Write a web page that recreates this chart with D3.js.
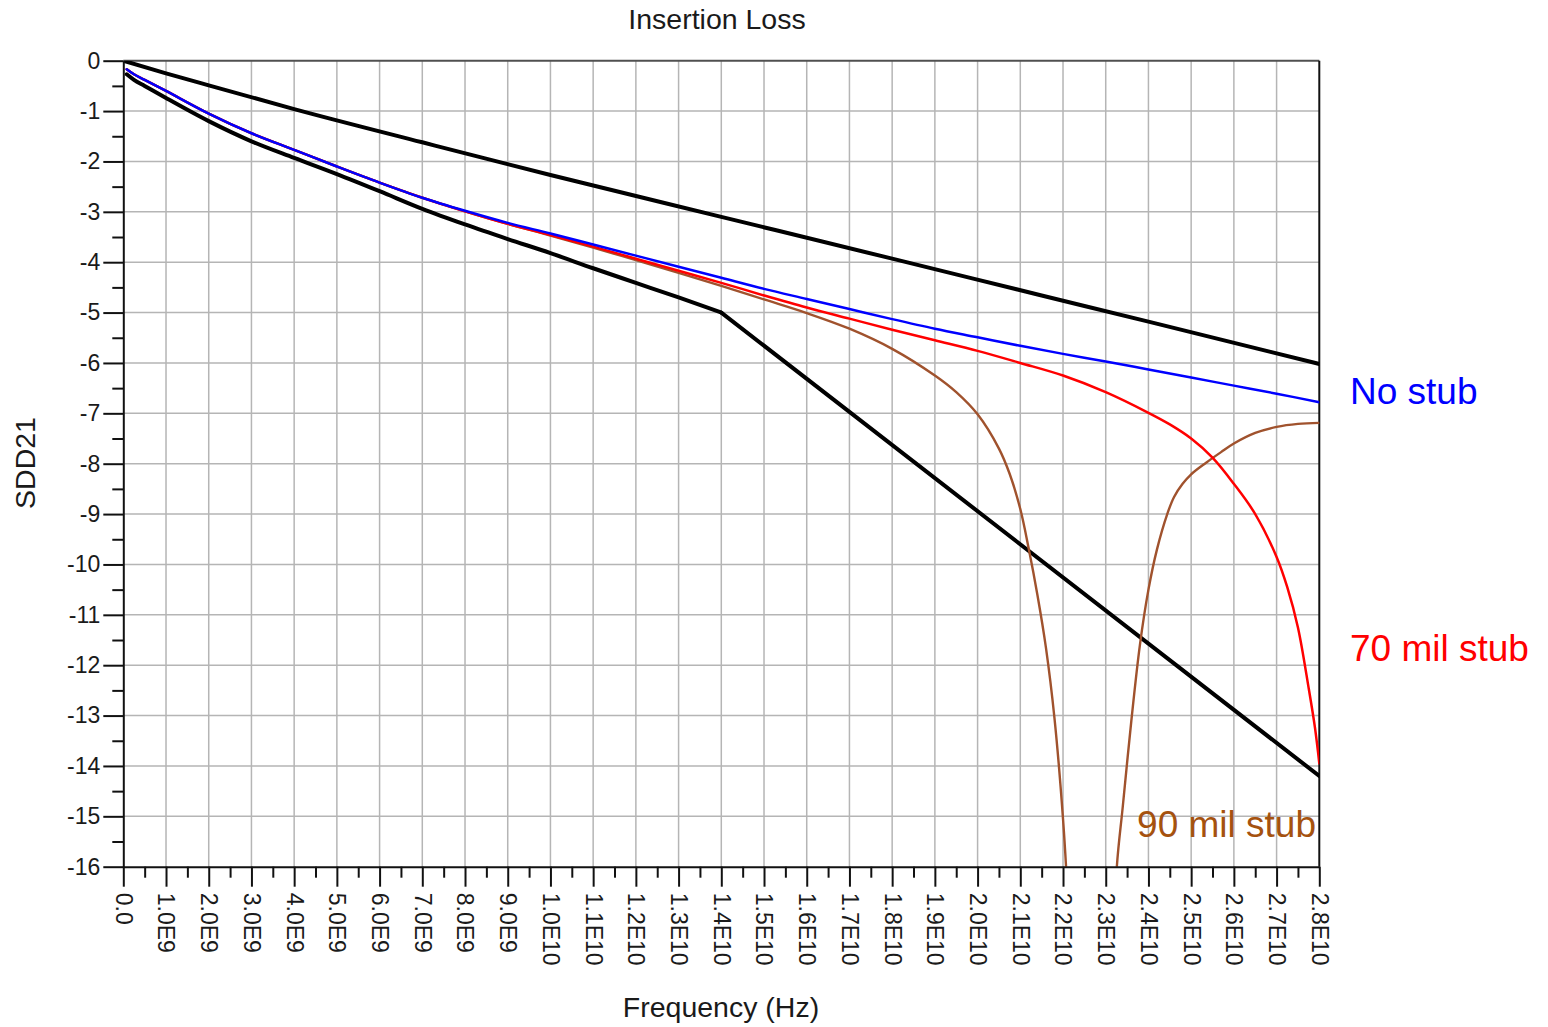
<!DOCTYPE html>
<html>
<head>
<meta charset="utf-8">
<script src="https://cdn.jsdelivr.net/npm/d3@7"></script>
<style>
html, body { margin: 0; padding: 0; background: #ffffff; }
svg { display: block; font-family: "Liberation Sans", Arial, Helvetica, sans-serif; }
</style>
</head>
<body>
<svg id="chart" width="1548" height="1027"></svg>
<script>
// ---------------- DATA ----------------
const chartTitle = "Insertion Loss";
const xAxisTitle = "Frequency (Hz)";
const yAxisTitle = "SDD21";

// x ticks in units of 1E9 Hz
const xTickValues = [0,1,2,3,4,5,6,7,8,9,10,11,12,13,14,15,16,17,18,19,20,21,22,23,24,25,26,27,28];
const xTickLabels = ["0.0","1.0E9","2.0E9","3.0E9","4.0E9","5.0E9","6.0E9","7.0E9","8.0E9","9.0E9",
  "1.0E10","1.1E10","1.2E10","1.3E10","1.4E10","1.5E10","1.6E10","1.7E10","1.8E10","1.9E10",
  "2.0E10","2.1E10","2.2E10","2.3E10","2.4E10","2.5E10","2.6E10","2.7E10","2.8E10"];
const xMinorTicks = [0.5,1.5,2.5,3.5,4.5,5.5,6.5,7.5,8.5,9.5,10.5,11.5,12.5,13.5,14.5,15.5,16.5,17.5,18.5,19.5,20.5,21.5,22.5,23.5,24.5,25.5,26.5,27.5];
const yTickValues = [0,-1,-2,-3,-4,-5,-6,-7,-8,-9,-10,-11,-12,-13,-14,-15,-16];
const yTickLabels = ["0","-1","-2","-3","-4","-5","-6","-7","-8","-9","-10","-11","-12","-13","-14","-15","-16"];
const yMinorTicks = [-0.5,-1.5,-2.5,-3.5,-4.5,-5.5,-6.5,-7.5,-8.5,-9.5,-10.5,-11.5,-12.5,-13.5,-14.5,-15.5];

// Upper limit line (black)
const freqUpper = [0, 1, 2, 4, 7, 10, 14, 18, 21.5, 24, 28];
const upperLimit = [0, -0.25, -0.49, -0.96, -1.62, -2.27, -3.10, -3.93, -4.66, -5.18, -6.02];

// Lower limit mask (black, kink at 1.4E10)
const freqLower = [0.08, 0.25, 0.5, 1, 2, 3, 4, 5, 6, 7, 8, 9, 10, 11, 12, 13, 14, 28];
const lowerLimit = [-0.27, -0.38, -0.50, -0.74, -1.20, -1.60, -1.93, -2.25, -2.59, -2.94, -3.25, -3.54, -3.82, -4.12, -4.41, -4.70, -5.00, -14.20];
const lowerKinkFreq = 14;

// No stub (blue)
const freqNoStub = [0.08, 0.25, 0.5, 1, 2, 3, 4, 5, 6, 7, 8, 9, 10, 11, 12, 13, 14, 15, 16, 17, 18, 19, 20, 21, 22, 23, 24, 25, 26, 27, 28];
const noStub = [-0.17, -0.27, -0.38, -0.60, -1.05, -1.44, -1.77, -2.10, -2.42, -2.72, -2.98, -3.22, -3.43, -3.65, -3.87, -4.09, -4.31, -4.53, -4.73, -4.93, -5.13, -5.32, -5.49, -5.66, -5.82, -5.97, -6.13, -6.29, -6.45, -6.61, -6.78];

// 70 mil stub (red)
const freqStub70 = [0.08, 0.25, 0.5, 1, 2, 3, 4, 5, 6, 7, 8, 9, 10, 11, 12, 13, 14, 15, 16, 17, 18, 19, 20, 21, 22, 23, 24, 24.5, 25, 25.5, 26, 26.5, 27, 27.25, 27.5, 27.75, 27.9, 28];
const stub70 = [-0.17, -0.27, -0.38, -0.60, -1.05, -1.44, -1.77, -2.10, -2.42, -2.72, -2.99, -3.24, -3.46, -3.69, -3.93, -4.17, -4.41, -4.66, -4.90, -5.12, -5.34, -5.55, -5.76, -6.00, -6.25, -6.58, -6.99, -7.22, -7.50, -7.88, -8.40, -9.00, -9.85, -10.45, -11.25, -12.45, -13.25, -13.95];

// 90 mil stub (brown)
const freqStub90 = [0.08, 0.25, 0.5, 1, 2, 3, 4, 5, 6, 7, 8, 9, 10, 11, 12, 13, 14, 15, 16, 17, 18, 19, 19.5, 20, 20.5, 20.75, 21, 21.2, 21.4, 21.6, 21.8, 22.0, 22.1, 22.25, 22.45, 22.65, 22.9, 23.1, 23.26, 23.4, 23.6, 23.8, 24.0, 24.2, 24.44, 24.6, 24.8, 25.0, 25.35, 25.7, 26, 26.5, 27, 27.5, 28];
const stub90 = [-0.17, -0.27, -0.38, -0.60, -1.05, -1.44, -1.77, -2.10, -2.42, -2.72, -2.99, -3.24, -3.47, -3.71, -3.96, -4.21, -4.47, -4.74, -5.01, -5.32, -5.72, -6.25, -6.58, -7.02, -7.70, -8.20, -8.90, -9.70, -10.60, -11.65, -13.05, -15.05, -16.45, -19.50, -24.00, -30.00, -24.00, -19.00, -16.00, -14.80, -13.10, -11.60, -10.50, -9.70, -9.00, -8.66, -8.40, -8.21, -7.98, -7.77, -7.60, -7.39, -7.27, -7.21, -7.19];

const seriesLabels = ["No stub", "70 mil stub", "90 mil stub"];

// ---------------- LAYOUT ----------------
const plotLeft = 123.3, plotRight = 1319.3, plotTop = 60.7, plotBottom = 866.7;
const svg = d3.select("#chart");
svg.append("rect").attr("width", 1548).attr("height", 1027).attr("fill", "#ffffff");

const x = d3.scaleLinear().domain([0, 28]).range([plotLeft, plotRight]);
const y = d3.scaleLinear().domain([0, -16]).range([plotTop, plotBottom]);

// Grid
const grid = svg.append("g").attr("stroke", "#b5b5b5").attr("stroke-width", 1.5);
grid.selectAll("line.gx").data(xTickValues.filter(d => d > 0 && d < 28)).join("line")
  .attr("class", "gx")
  .attr("x1", d => x(d)).attr("x2", d => x(d))
  .attr("y1", y(0)).attr("y2", y(-16));
grid.selectAll("line.gy").data(yTickValues.filter(d => d < 0 && d > -16)).join("line")
  .attr("class", "gy")
  .attr("x1", x(0)).attr("x2", x(28))
  .attr("y1", d => y(d)).attr("y2", d => y(d));

// Frame top/right
svg.append("line").attr("x1", x(0)).attr("x2", x(28)).attr("y1", y(0)).attr("y2", y(0))
  .attr("stroke", "#505050").attr("stroke-width", 2);
svg.append("line").attr("x1", x(28)).attr("x2", x(28)).attr("y1", y(0)).attr("y2", y(-16))
  .attr("stroke", "#111").attr("stroke-width", 2);

// Series
svg.append("clipPath").attr("id", "plotClip").append("rect")
  .attr("x", plotLeft).attr("y", plotTop)
  .attr("width", plotRight - plotLeft).attr("height", plotBottom - plotTop);

const toPts = (f, v) => f.map((d, i) => [d, v[i]]);
const lowerPts = toPts(freqLower, lowerLimit);
const smooth = d3.curveCatmullRom.alpha(0.5);

const series = [
  { pts: toPts(freqUpper, upperLimit), color: "#000000", width: 4, curve: d3.curveMonotoneX },
  { pts: lowerPts.filter(d => d[0] <= lowerKinkFreq), color: "#000000", width: 4, curve: d3.curveMonotoneX },
  { pts: lowerPts.filter(d => d[0] >= lowerKinkFreq), color: "#000000", width: 4, curve: d3.curveLinear },
  { pts: toPts(freqStub90, stub90), color: "#a0522d", width: 2.4, curve: smooth },
  { pts: toPts(freqStub70, stub70), color: "#ff0000", width: 2.5, curve: smooth },
  { pts: toPts(freqNoStub, noStub), color: "#0000ff", width: 2.5, curve: smooth }
];
const gLines = svg.append("g").attr("clip-path", "url(#plotClip)");
series.forEach(s => {
  const line = d3.line().x(d => x(d[0])).y(d => y(d[1])).curve(s.curve);
  gLines.append("path").attr("d", line(s.pts)).attr("fill", "none")
    .attr("stroke", s.color).attr("stroke-width", s.width)
    .attr("stroke-linejoin", "round").attr("stroke-linecap", "round");
});

// Axes
const tickColor = "#111";
const yAxisG = svg.append("g").attr("transform", `translate(${plotLeft},0)`)
  .call(d3.axisLeft(y).tickValues(yTickValues).tickSize(20).tickSizeOuter(0).tickPadding(3)
    .tickFormat((d, i) => yTickLabels[i]));
const yMinorG = svg.append("g").attr("transform", `translate(${plotLeft},0)`)
  .call(d3.axisLeft(y).tickValues(yMinorTicks).tickSize(11).tickSizeOuter(0).tickFormat(""));
yMinorG.select(".domain").remove();

const xAxisG = svg.append("g").attr("transform", `translate(0,${plotBottom})`)
  .call(d3.axisBottom(x).tickValues(xTickValues).tickSize(20).tickSizeOuter(0)
    .tickFormat((d, i) => xTickLabels[i]));
const xMinorG = svg.append("g").attr("transform", `translate(0,${plotBottom})`)
  .call(d3.axisBottom(x).tickValues(xMinorTicks).tickSize(11).tickSizeOuter(0).tickFormat(""));
xMinorG.select(".domain").remove();

[yAxisG, yMinorG, xAxisG, xMinorG].forEach(g => {
  g.selectAll("path.domain").attr("stroke", tickColor).attr("stroke-width", 2);
  g.selectAll(".tick line").attr("stroke", tickColor).attr("stroke-width", 2);
  g.selectAll("text").attr("fill", "#1a1a1a").style("font-size", "23px")
    .style("font-family", "'Liberation Sans', Arial, sans-serif");
});
xAxisG.selectAll(".tick text")
  .attr("transform", "rotate(90)")
  .attr("x", 26).attr("y", 0).attr("dy", "0.35em")
  .style("text-anchor", "start");

// Titles
svg.append("text").attr("x", 717).attr("y", 28.5).attr("text-anchor", "middle")
  .attr("fill", "#1a1a1a").style("font-size", "28.5px").text(chartTitle);
svg.append("text").attr("x", 721).attr("y", 1017).attr("text-anchor", "middle")
  .attr("fill", "#1a1a1a").style("font-size", "28.5px").text(xAxisTitle);
svg.append("text").attr("transform", "translate(35,463) rotate(-90)").attr("text-anchor", "middle")
  .attr("fill", "#1a1a1a").style("font-size", "28.5px").text(yAxisTitle);

// Series annotations
svg.append("text").attr("x", 1350).attr("y", 404).attr("fill", "#0000ff")
  .style("font-size", "37px").text(seriesLabels[0]);
svg.append("text").attr("x", 1350).attr("y", 661).attr("fill", "#ff0000")
  .style("font-size", "37px").text(seriesLabels[1]);
svg.append("text").attr("x", 1316).attr("y", 837).attr("text-anchor", "end").attr("fill", "#a5520f")
  .style("font-size", "37px").text(seriesLabels[2]);
</script>
</body>
</html>
